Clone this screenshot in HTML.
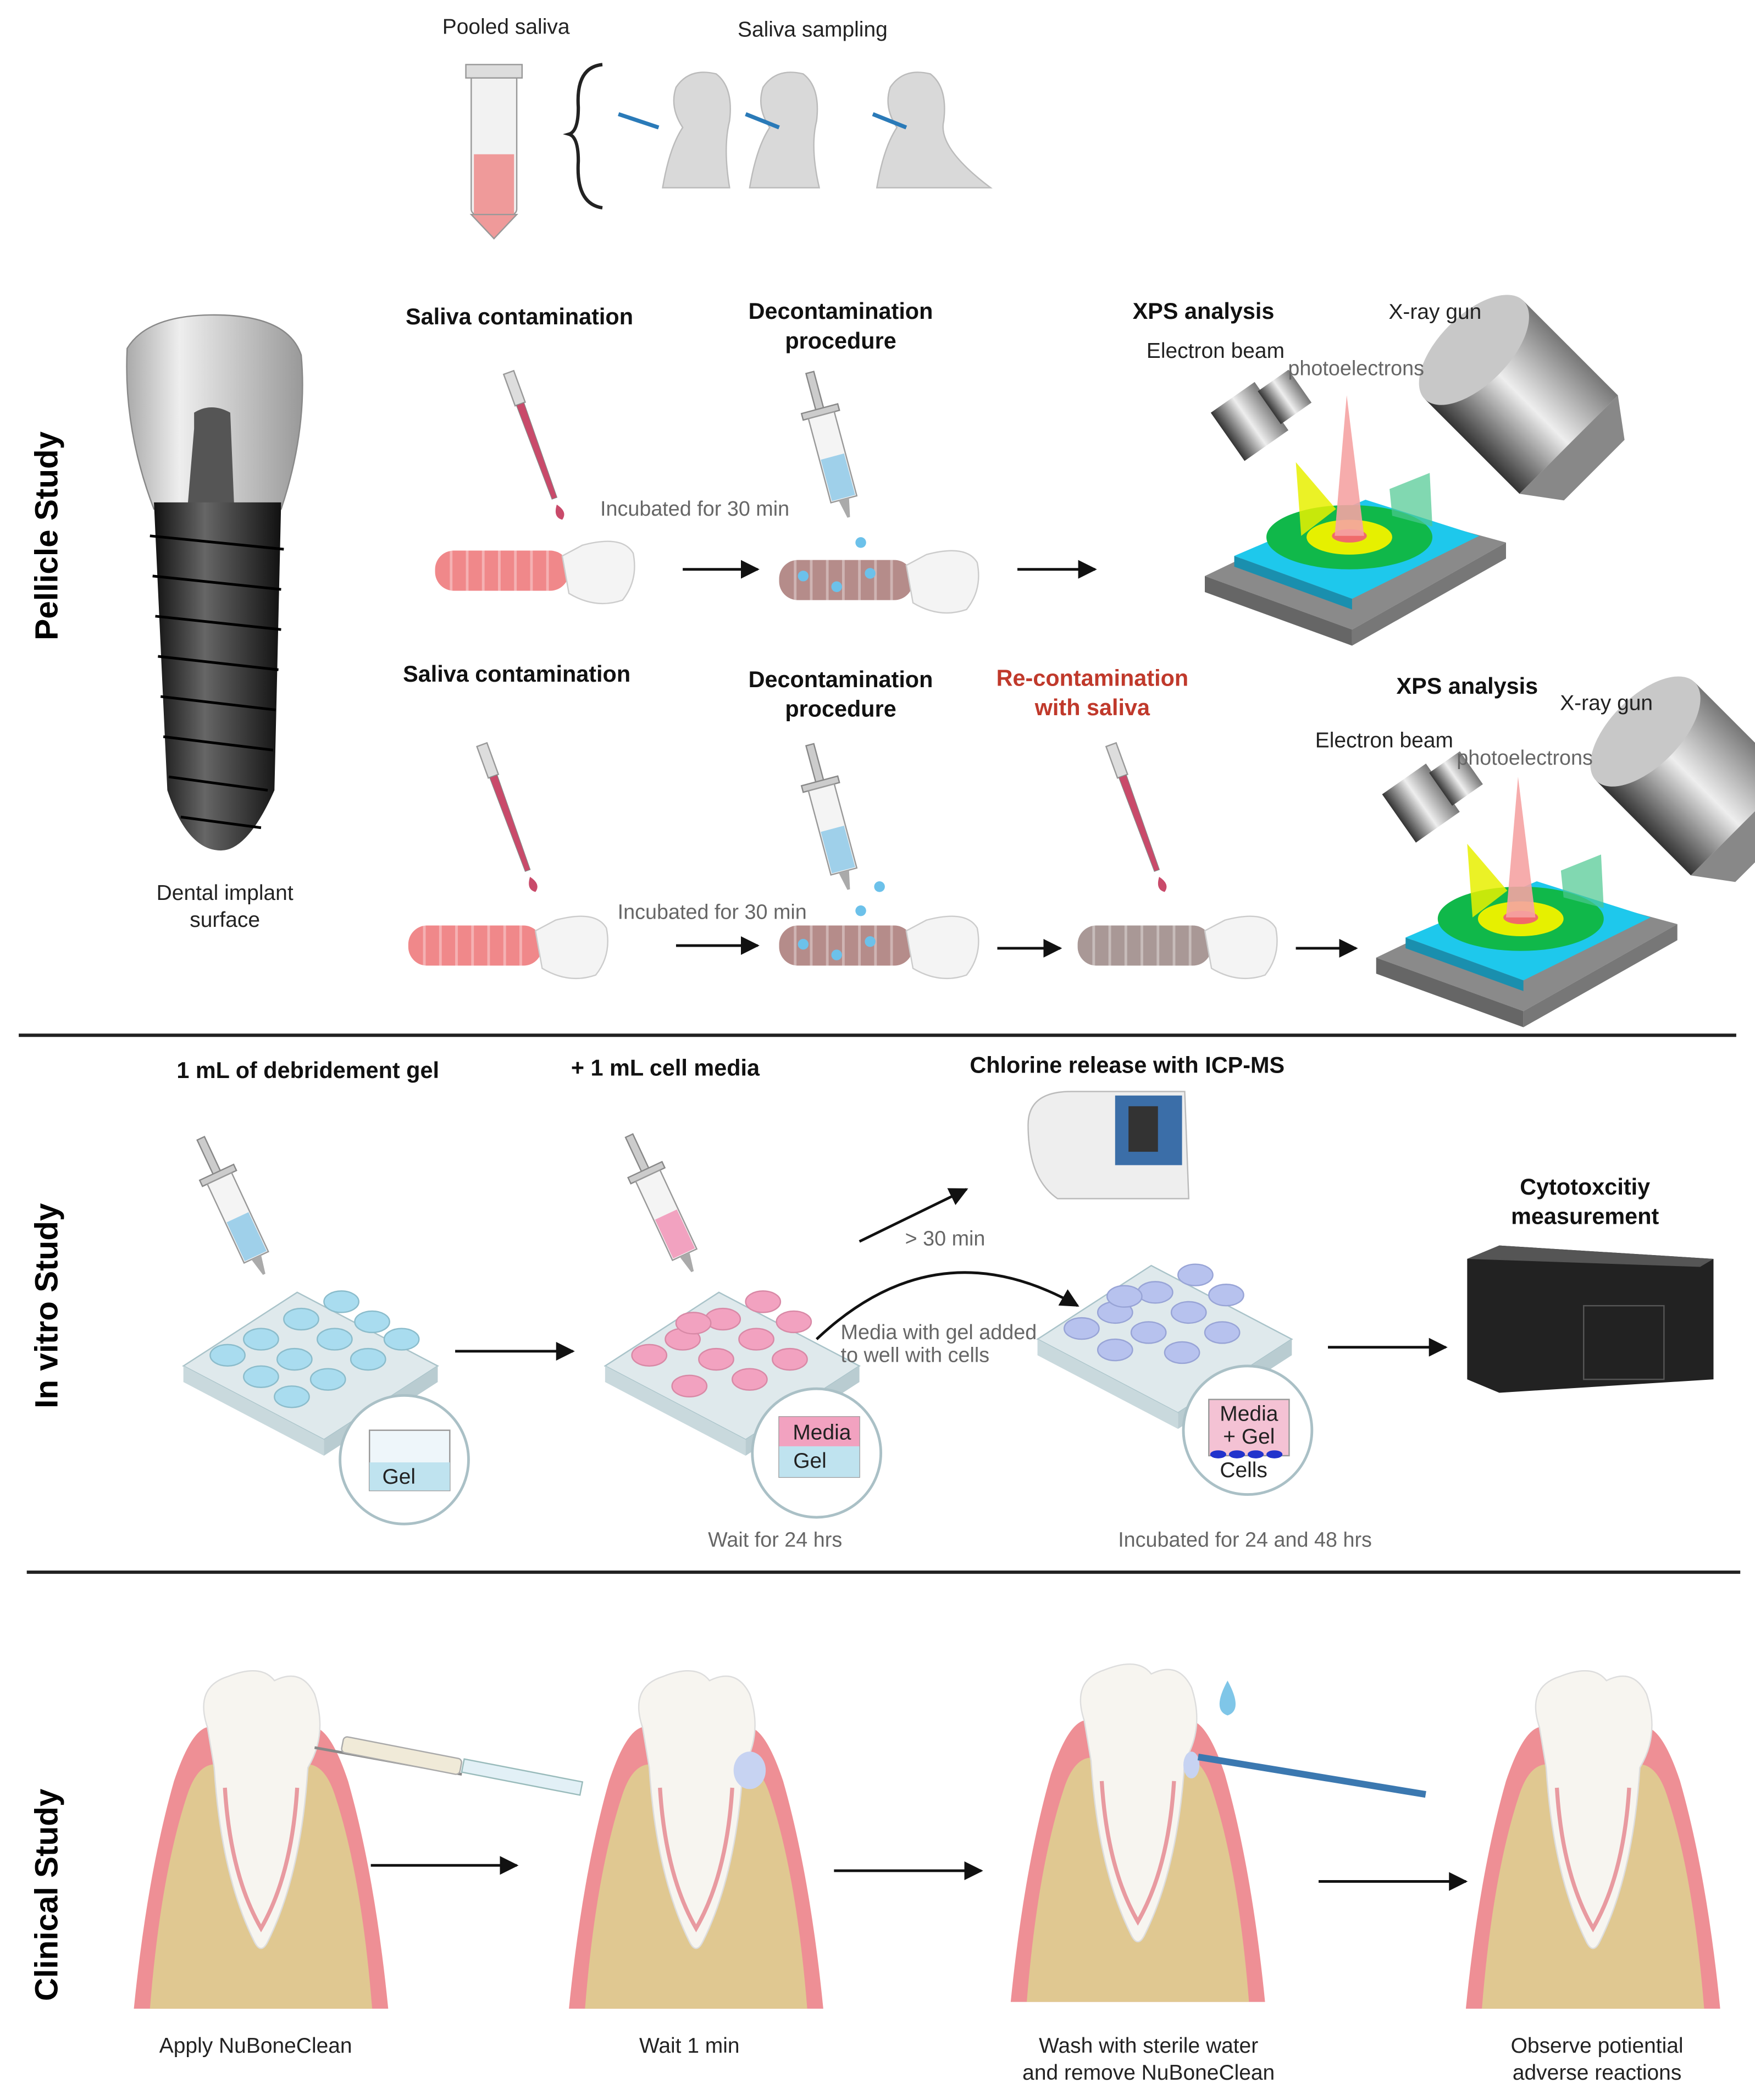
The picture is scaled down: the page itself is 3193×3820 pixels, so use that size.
<!DOCTYPE html>
<html><head><meta charset="utf-8"><style>
html,body{margin:0;padding:0;background:#fff}
svg{display:block}
text{font-family:"Liberation Sans",sans-serif}
.b{font-weight:bold;font-size:17px;fill:#111}
.g{font-size:15.5px;fill:#666}
.k{font-size:16px;fill:#222}
.r{font-weight:bold;font-size:24px;fill:#000}
</style></head><body>
<svg width="3193" height="3820" viewBox="0 0 1311 1568" xmlns="http://www.w3.org/2000/svg">
<defs>
<linearGradient id="met" x1="0" x2="1"><stop offset="0" stop-color="#333"/><stop offset=".5" stop-color="#eee"/><stop offset="1" stop-color="#777"/></linearGradient>
<linearGradient id="dark" x1="0" x2="1"><stop offset="0" stop-color="#111"/><stop offset=".4" stop-color="#666"/><stop offset="1" stop-color="#111"/></linearGradient>
<linearGradient id="crown" x1="0" x2="1"><stop offset="0" stop-color="#aaa"/><stop offset=".3" stop-color="#eee"/><stop offset="1" stop-color="#999"/></linearGradient>
<marker id="ar" viewBox="0 0 10 10" refX="9" refY="5" markerWidth="7" markerHeight="7" orient="auto"><path d="M0,0L10,5L0,10z" fill="#111"/></marker>
<g id="xps">
 <polygon points="0,215 110,255 225,190 115,160" fill="#8a8a8a"/>
 <polygon points="0,215 110,255 110,267 0,227" fill="#666"/>
 <polygon points="110,255 225,190 225,202 110,267" fill="#777"/>
 <polygon points="22,200 110,232 205,185 120,158" fill="#1ec8ec"/>
 <polygon points="22,200 110,232 110,240 22,208" fill="#1a8fae"/>
 <ellipse cx="108" cy="186" rx="62" ry="24" fill="#10b84a"/>
 <ellipse cx="108" cy="186" rx="32" ry="13" fill="#e6f000"/>
 <ellipse cx="108" cy="185" rx="13" ry="5" fill="#f06a6a"/>
 <polygon points="68,130 98,165 72,185" fill="#e8f000" opacity=".85"/>
 <polygon points="138,150 168,138 170,178 140,170" fill="#4cc890" opacity=".7"/>
 <polygon points="106,80 97,185 119,185" fill="#f5a3a3" opacity=".9"/>
 <g transform="translate(40,95) rotate(-35)"><rect x="-28" y="-22" width="40" height="44" fill="url(#met)"/><rect x="10" y="-15" width="28" height="30" fill="url(#met)"/></g>
 <g transform="translate(240,85) rotate(-45)"><rect x="-52" y="-55" width="104" height="100" fill="url(#met)"/><path d="M-52,45 L-32,72 L32,72 L52,45z" fill="#888"/><ellipse cx="0" cy="-55" rx="52" ry="26" fill="#c8c8c8"/></g>
</g>
<g id="impl">
 <rect x="0" y="8" width="100" height="30" rx="14" fill="currentColor"/>
 <g stroke="#fff" stroke-opacity=".35" stroke-width="2"><line x1="12" y1="8" x2="12" y2="38"/><line x1="24" y1="8" x2="24" y2="38"/><line x1="36" y1="8" x2="36" y2="38"/><line x1="48" y1="8" x2="48" y2="38"/><line x1="60" y1="8" x2="60" y2="38"/><line x1="72" y1="8" x2="72" y2="38"/><line x1="84" y1="8" x2="84" y2="38"/></g>
 <path d="M95,12 L110,4 Q140,-4 148,10 Q152,30 140,45 Q120,52 100,40z" fill="#f4f4f4" stroke="#ccc"/>
</g>
<g id="pip">
 <rect x="-4" y="0" width="8" height="25" fill="#ddd" stroke="#999"/>
 <polygon points="-3,25 3,25 2,100 -2,100" fill="currentColor" stroke="#888" stroke-width=".5"/>
 <path d="M0,105 q-6,8 0,12 q6,-4 0,-12z" fill="currentColor"/>
</g>
<g id="syr">
 <rect x="-3" y="0" width="6" height="30" fill="#ccc" stroke="#888"/>
 <rect x="-14" y="28" width="28" height="5" fill="#ccc" stroke="#888"/>
 <rect x="-10" y="33" width="20" height="65" fill="#f4f4f4" stroke="#999"/>
 <rect x="-9" y="65" width="18" height="32" fill="currentColor"/>
 <polygon points="-4,98 4,98 1,112 -1,112" fill="#aaa"/>
</g>
<g id="plate">
 <polygon points="0,55 105,110 190,55 85,0" fill="#dfe9ec" stroke="#a9c3c9"/>
 <polygon points="0,55 105,110 105,122 0,67" fill="#c9d9dd"/>
 <polygon points="105,110 190,55 190,67 105,122" fill="#b9ccd1"/>
</g>
<g id="tooth">
 <path d="M0,250 Q10,150 30,80 Q45,35 60,40 L130,40 Q145,35 160,80 Q180,150 190,250z" fill="#ee8f95"/>
 <path d="M12,250 Q20,150 40,90 Q50,60 70,70 L120,70 Q140,60 150,90 Q170,150 178,250z" fill="#e0c891"/>
 <path d="M55,40 Q45,10 70,2 Q95,-8 105,5 Q125,-5 135,15 Q145,45 130,70 Q125,150 100,200 Q95,210 90,200 Q65,150 60,70z" fill="#f7f5f0" stroke="#ddd"/>
 <path d="M68,85 Q72,150 95,190 Q118,150 122,85" fill="none" stroke="#e89aa0" stroke-width="3"/>
</g>
</defs>

<!-- top -->
<text x="378" y="25" class="k" text-anchor="middle">Pooled saliva</text>
<text x="607" y="27" class="k" text-anchor="middle">Saliva sampling</text>
<rect x="352" y="55" width="34" height="105" rx="4" fill="#f2f2f2" stroke="#999"/>
<rect x="354" y="115" width="30" height="45" fill="#ef9a9a"/>
<path d="M352,160 L369,178 L386,160z" fill="#ef9a9a" stroke="#999"/>
<rect x="348" y="48" width="42" height="10" fill="#ddd" stroke="#999"/>
<path d="M450,48 Q430,50 432,80 Q432,98 425,100 Q432,102 432,120 Q430,152 450,155" fill="none" stroke="#222" stroke-width="2.5"/>
<g fill="#d9d9d9" stroke="#bbb">
 <path d="M495,140 Q500,110 510,95 Q500,80 505,65 Q515,50 535,55 Q548,65 545,90 Q540,110 545,140z"/>
 <path d="M560,140 Q565,110 575,95 Q565,80 570,65 Q580,50 600,55 Q613,65 610,90 Q605,110 612,140z"/>
 <path d="M655,140 Q660,110 670,95 Q660,80 665,65 Q675,50 695,55 Q708,65 705,90 Q700,110 740,140z"/>
</g>
<g stroke="#2a7ab8" stroke-width="3"><line x1="462" y1="85" x2="492" y2="95"/><line x1="557" y1="85" x2="582" y2="95"/><line x1="652" y1="85" x2="677" y2="95"/></g>

<!-- big implant -->
<path d="M95,260 Q110,235 160,235 Q215,235 225,265 Q230,320 210,380 L115,380 Q92,320 95,260z" fill="url(#crown)" stroke="#888"/>
<path d="M145,320 L145,308 Q158,300 172,308 L175,380 L140,380z" fill="#555"/>
<path d="M115,375 L210,375 L205,590 Q185,635 165,635 Q140,635 125,590z" fill="url(#dark)"/>
<g stroke="#000" stroke-width="2">
<line x1="112" y1="400" x2="212" y2="410"/><line x1="114" y1="430" x2="210" y2="440"/><line x1="116" y1="460" x2="210" y2="470"/><line x1="118" y1="490" x2="208" y2="500"/><line x1="120" y1="520" x2="206" y2="530"/><line x1="122" y1="550" x2="204" y2="560"/><line x1="126" y1="580" x2="200" y2="590"/><line x1="135" y1="610" x2="195" y2="618"/></g>
<text x="168" y="672" class="k" text-anchor="middle" font-size="15">Dental implant</text>
<text x="168" y="692" class="k" text-anchor="middle" font-size="15">surface</text>
<text class="r" transform="translate(43,400) rotate(-90)" text-anchor="middle">Pellicle Study</text>

<!-- row 1 -->
<use href="#xps" transform="translate(900,215)"/>
<text x="388" y="242" class="b" text-anchor="middle">Saliva contamination</text>
<text x="628" y="238" class="b" text-anchor="middle">Decontamination</text>
<text x="628" y="260" class="b" text-anchor="middle">procedure</text>
<text x="899" y="238" class="b" text-anchor="middle">XPS analysis</text>
<text x="1072" y="238" class="k" font-size="15" text-anchor="middle">X-ray gun</text>
<text x="908" y="267" class="k" font-size="15" text-anchor="middle">Electron beam</text>
<text x="1013" y="280" class="g" font-size="14" text-anchor="middle">photoelectrons</text>
<use href="#pip" transform="translate(380,278) rotate(-20)" color="#c94a6a"/>
<use href="#impl" transform="translate(325,403)" color="#f0888a"/>
<text x="519" y="385" class="g" text-anchor="middle">Incubated  for 30 min</text>
<line x1="510" y1="425" x2="566" y2="425" stroke="#111" stroke-width="2" marker-end="url(#ar)"/>
<use href="#syr" transform="translate(605,278) rotate(-15)" color="#9fd0ea"/>
<use href="#impl" transform="translate(582,410)" color="#b58c8a"/>
<g fill="#6cc1ea"><circle cx="600" cy="430" r="4"/><circle cx="625" cy="438" r="4"/><circle cx="650" cy="428" r="4"/><circle cx="643" cy="405" r="4"/></g>
<line x1="760" y1="425" x2="818" y2="425" stroke="#111" stroke-width="2" marker-end="url(#ar)"/>

<!-- row 2 -->
<use href="#xps" transform="translate(1028,500)"/>
<text x="386" y="509" class="b" text-anchor="middle">Saliva contamination</text>
<text x="628" y="513" class="b" text-anchor="middle">Decontamination</text>
<text x="628" y="535" class="b" text-anchor="middle">procedure</text>
<text x="816" y="512" class="b" text-anchor="middle" style="fill:#c0392b">Re-contamination</text>
<text x="816" y="534" class="b" text-anchor="middle" style="fill:#c0392b">with saliva</text>
<text x="1096" y="518" class="b" text-anchor="middle">XPS analysis</text>
<text x="1200" y="530" class="k" font-size="15" text-anchor="middle">X-ray gun</text>
<text x="1034" y="558" class="k" font-size="15" text-anchor="middle">Electron beam</text>
<text x="1139" y="571" class="g" font-size="14" text-anchor="middle">photoelectrons</text>
<use href="#pip" transform="translate(360,556) rotate(-20)" color="#c94a6a"/>
<use href="#impl" transform="translate(305,683)" color="#f0888a"/>
<text x="532" y="686" class="g" text-anchor="middle">Incubated for 30 min</text>
<line x1="505" y1="706" x2="566" y2="706" stroke="#111" stroke-width="2" marker-end="url(#ar)"/>
<use href="#syr" transform="translate(605,556) rotate(-15)" color="#9fd0ea"/>
<use href="#impl" transform="translate(582,683)" color="#b58c8a"/>
<g fill="#6cc1ea"><circle cx="600" cy="705" r="4"/><circle cx="625" cy="713" r="4"/><circle cx="650" cy="703" r="4"/><circle cx="643" cy="680" r="4"/><circle cx="657" cy="662" r="4"/></g>
<line x1="745" y1="708" x2="792" y2="708" stroke="#111" stroke-width="2" marker-end="url(#ar)"/>
<use href="#pip" transform="translate(830,556) rotate(-20)" color="#c94a6a"/>
<use href="#impl" transform="translate(805,683)" color="#a99896"/>
<line x1="968" y1="708" x2="1013" y2="708" stroke="#111" stroke-width="2" marker-end="url(#ar)"/>

<line x1="14" y1="773" x2="1297" y2="773" stroke="#222" stroke-width="2.5"/>

<!-- in vitro -->
<text class="r" transform="translate(43,975) rotate(-90)" text-anchor="middle">In vitro Study</text>
<text x="230" y="805" class="b" text-anchor="middle">1  mL of debridement gel</text>
<text x="497" y="803" class="b" text-anchor="middle">+ 1 mL  cell media</text>
<text x="842" y="801" class="b" text-anchor="middle">Chlorine release with ICP-MS</text>
<text x="1184" y="892" class="b" text-anchor="middle">Cytotoxcitiy</text>
<text x="1184" y="914" class="b" text-anchor="middle">measurement</text>
<use href="#syr" transform="translate(150,850) rotate(-25)" color="#9fd0ea"/>
<use href="#plate" transform="translate(137,965)"/>
<g fill="#a9dcef" stroke="#8bbccb"><ellipse cx="195" cy="1000" rx="13" ry="8"/><ellipse cx="225" cy="985" rx="13" ry="8"/><ellipse cx="255" cy="972" rx="13" ry="8"/><ellipse cx="220" cy="1015" rx="13" ry="8"/><ellipse cx="250" cy="1000" rx="13" ry="8"/><ellipse cx="278" cy="987" rx="13" ry="8"/><ellipse cx="245" cy="1030" rx="13" ry="8"/><ellipse cx="275" cy="1015" rx="13" ry="8"/><ellipse cx="300" cy="1000" rx="13" ry="8"/><ellipse cx="170" cy="1012" rx="13" ry="8"/><ellipse cx="195" cy="1028" rx="13" ry="8"/><ellipse cx="218" cy="1043" rx="13" ry="8"/></g>
<circle cx="302" cy="1090" r="48" fill="#fff" stroke="#aac0c6" stroke-width="2"/>
<rect x="276" y="1068" width="60" height="45" fill="#eef6fa" stroke="#999"/><rect x="276" y="1092" width="60" height="21" fill="#bfe3ef"/>
<text x="298" y="1108" class="k" font-size="14" text-anchor="middle">Gel</text>
<line x1="340" y1="1009" x2="428" y2="1009" stroke="#111" stroke-width="2" marker-end="url(#ar)"/>
<use href="#syr" transform="translate(470,848) rotate(-25)" color="#f2a2c0"/>
<use href="#plate" transform="translate(452,965)"/>
<g fill="#f2a2c0" stroke="#d889a6"><ellipse cx="510" cy="1000" rx="13" ry="8"/><ellipse cx="540" cy="985" rx="13" ry="8"/><ellipse cx="570" cy="972" rx="13" ry="8"/><ellipse cx="535" cy="1015" rx="13" ry="8"/><ellipse cx="565" cy="1000" rx="13" ry="8"/><ellipse cx="593" cy="987" rx="13" ry="8"/><ellipse cx="560" cy="1030" rx="13" ry="8"/><ellipse cx="590" cy="1015" rx="13" ry="8"/><ellipse cx="515" cy="1035" rx="13" ry="8"/><ellipse cx="485" cy="1012" rx="13" ry="8"/><ellipse cx="518" cy="988" rx="13" ry="8"/></g>
<circle cx="610" cy="1085" r="48" fill="#fff" stroke="#aac0c6" stroke-width="2"/>
<rect x="582" y="1058" width="60" height="45" fill="#eee" stroke="#999"/><rect x="582" y="1058" width="60" height="22" fill="#f2a2c0"/><rect x="582" y="1080" width="60" height="23" fill="#bfe3ef"/>
<text x="614" y="1075" class="k" font-size="14" text-anchor="middle">Media</text>
<text x="605" y="1096" class="k" font-size="14" text-anchor="middle">Gel</text>
<text x="579" y="1155" class="g" text-anchor="middle">Wait for 24 hrs</text>
<line x1="642" y1="927" x2="722" y2="888" stroke="#111" stroke-width="2" marker-end="url(#ar)"/>
<text x="706" y="930" class="g" text-anchor="middle">&gt; 30 min</text>
<path d="M610,1000 Q700,915 805,975" fill="none" stroke="#111" stroke-width="2" marker-end="url(#ar)"/>
<text x="628" y="1000" class="g" font-size="13.5">Media with gel added</text>
<text x="628" y="1017" class="g" font-size="13.5">to well with cells</text>
<path d="M768,840 Q768,815 800,815 L885,815 L888,895 L790,895 Q768,880 768,840z" fill="#eee" stroke="#bbb"/>
<rect x="833" y="818" width="50" height="52" fill="#3b6ea8"/><rect x="843" y="826" width="22" height="34" fill="#333"/>
<use href="#plate" transform="translate(775,945)"/>
<g fill="#b7c2ee" stroke="#98a4d6"><ellipse cx="833" cy="980" rx="13" ry="8"/><ellipse cx="863" cy="965" rx="13" ry="8"/><ellipse cx="893" cy="952" rx="13" ry="8"/><ellipse cx="858" cy="995" rx="13" ry="8"/><ellipse cx="888" cy="980" rx="13" ry="8"/><ellipse cx="916" cy="967" rx="13" ry="8"/><ellipse cx="883" cy="1010" rx="13" ry="8"/><ellipse cx="913" cy="995" rx="13" ry="8"/><ellipse cx="808" cy="992" rx="13" ry="8"/><ellipse cx="833" cy="1008" rx="13" ry="8"/><ellipse cx="840" cy="968" rx="13" ry="8"/></g>
<circle cx="932" cy="1068" r="48" fill="#fff" stroke="#aac0c6" stroke-width="2"/>
<rect x="903" y="1045" width="60" height="42" fill="#f4c2d4" stroke="#999"/>
<g fill="#2233cc"><ellipse cx="910" cy="1086" rx="6" ry="3"/><ellipse cx="924" cy="1086" rx="6" ry="3"/><ellipse cx="938" cy="1086" rx="6" ry="3"/><ellipse cx="952" cy="1086" rx="6" ry="3"/></g>
<text x="933" y="1061" class="k" font-size="14" text-anchor="middle">Media</text>
<text x="933" y="1078" class="k" font-size="14" text-anchor="middle">+ Gel</text>
<text x="929" y="1103" class="k" font-size="14" text-anchor="middle">Cells</text>
<text x="930" y="1155" class="g" text-anchor="middle">Incubated for 24 and 48  hrs</text>
<line x1="992" y1="1006" x2="1080" y2="1006" stroke="#111" stroke-width="2" marker-end="url(#ar)"/>
<polygon points="1096,940 1120,930 1280,940 1280,1030 1120,1040 1096,1030" fill="#222"/>
<polygon points="1120,930 1280,940 1270,946 1096,940" fill="#555"/>
<rect x="1183" y="975" width="60" height="55" fill="none" stroke="#555"/>

<line x1="20" y1="1174" x2="1300" y2="1174" stroke="#222" stroke-width="2.5"/>

<!-- clinical -->
<text class="r" transform="translate(43,1415) rotate(-90)" text-anchor="middle">Clinical Study</text>
<use href="#tooth" transform="translate(100,1250)"/>
<use href="#tooth" transform="translate(425,1250)"/>
<use href="#tooth" transform="translate(755,1245)"/>
<use href="#tooth" transform="translate(1095,1250)"/>
<line x1="235" y1="1305" x2="345" y2="1325" stroke="#888" stroke-width="2"/>
<rect x="255" y="1305" width="90" height="12" rx="3" fill="#f0ead8" stroke="#aaa" transform="rotate(11 300 1311)"/>
<rect x="345" y="1322" width="90" height="10" fill="#e2f0f6" stroke="#9bb" transform="rotate(11 390 1327)"/>
<ellipse cx="560" cy="1322" rx="12" ry="14" fill="#c7d3f2"/>
<ellipse cx="890" cy="1318" rx="6" ry="10" fill="#c7d3f2"/>
<path d="M917,1255 q-12,22 0,26 q12,-4 0,-26z" fill="#7fc6e8"/>
<line x1="895" y1="1312" x2="1065" y2="1340" stroke="#3b78b0" stroke-width="5"/>
<line x1="277" y1="1393" x2="386" y2="1393" stroke="#111" stroke-width="2" marker-end="url(#ar)"/>
<line x1="623" y1="1397" x2="733" y2="1397" stroke="#111" stroke-width="2" marker-end="url(#ar)"/>
<line x1="985" y1="1405" x2="1095" y2="1405" stroke="#111" stroke-width="2" marker-end="url(#ar)"/>
<text x="191" y="1533" class="k" font-size="16.5" text-anchor="middle">Apply NuBoneClean</text>
<text x="515" y="1533" class="k" font-size="16.5" text-anchor="middle">Wait 1 min</text>
<text x="858" y="1533" class="k" font-size="16.5" text-anchor="middle">Wash with sterile water</text>
<text x="858" y="1553" class="k" font-size="16.5" text-anchor="middle">and remove NuBoneClean</text>
<text x="1193" y="1533" class="k" font-size="16.5" text-anchor="middle">Observe potiential</text>
<text x="1193" y="1553" class="k" font-size="16.5" text-anchor="middle">adverse reactions</text>
</svg>
</body></html>
